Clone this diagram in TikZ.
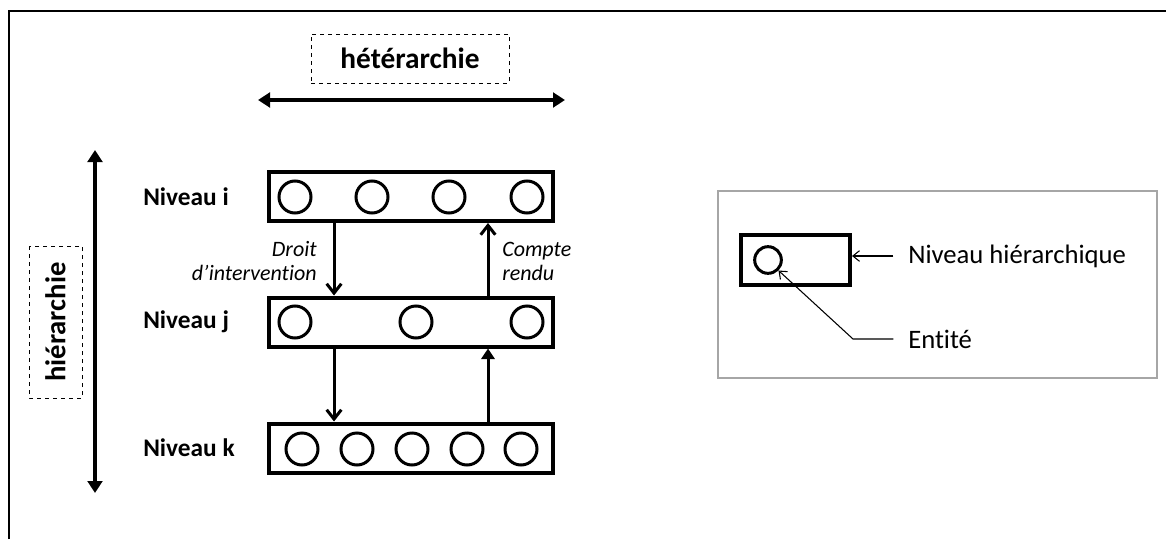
\documentclass[tikz,border=0pt]{standalone}
\usepackage{fontspec}
\setmainfont{Carlito}[Ligatures=CommonOff]
\usetikzlibrary{arrows.meta}
\tikzset{
  level/.style={draw, line width=3pt, minimum width=213pt, minimum height=36.75pt, inner sep=0pt},
  entity/.style={draw, circle, line width=2.25pt, minimum size=24pt, inner sep=0pt},
  axisarrow/.style={line width=3pt, {Triangle[length=9pt,width=11pt]}-{Triangle[length=9pt,width=11pt]}},
  flow/.style={line width=2.25pt, -{Straight Barb[length=7pt,width=11pt]}},
  flowfill/.style={line width=2.25pt, -{Triangle[length=8pt,width=10pt]}},
  axislabel/.style={draw, dashed, line width=0.75pt, font=\fontsize{22}{26}\selectfont\bfseries, inner sep=0pt},
  levellabel/.style={font=\fontsize{19}{22}\selectfont\bfseries, anchor=west, inner sep=0pt},
  flowlabel/.style={font=\fontsize{16.5}{18}\selectfont\itshape, inner sep=0pt},
  legendtext/.style={font=\fontsize{20}{24}\selectfont, anchor=west, inner sep=0pt},
  legendarrow/.style={line width=0.8pt, -{Straight Barb[length=5pt,width=8pt]}, shorten <=11pt}
}
\begin{document}
\begin{tikzpicture}[x=0.75pt, y=-0.75pt]
    \useasboundingbox (0,0) rectangle (1166,539);
    % cadre
    \draw[line width=1.5pt] (9,539) -- (9,11) -- (1166,11);
    % axes
    \node[axislabel, minimum width=148.5pt, minimum height=36.75pt] (het) at (410,58.5) {hétérarchie};
    \coordinate (hl) at (258,100);
    \coordinate (hr) at (565,100);
    \draw[axisarrow] (hl) -- (hr);
    \node[axislabel, font=\fontsize{21.5}{26}\selectfont\bfseries, rotate=90, minimum width=114pt, minimum height=39.75pt] (hier) at (55.5,322) {hiérarchie};
    \coordinate (vt) at (95,150);
    \coordinate (vb) at (95,493);
    \draw[axisarrow] (vt) -- (vb);
    % niveaux
    \node[level] (bi) at (411,196.5) {};
    \node[level] (bj) at (411,322) {};
    \node[level] (bk) at (411,448) {};
    \node[levellabel] (li) at (143,196.5) {Niveau i};
    \node[levellabel] (lj) at (143,322) {Niveau j};
    \node[levellabel] (lk) at (143,448) {Niveau k};
    \foreach \x [count=\n] in {295,372,449,527}
        \node[entity] (ei\n) at (\x,197) {};
    \foreach \x [count=\n] in {295,416,527}
        \node[entity] (ej\n) at (\x,322) {};
    \foreach \x [count=\n] in {302,357,412,467,521}
        \node[entity] (ek\n) at (\x,449) {};
    % liens
    \draw[flow] (334,0 |- bi.south) -- (334,0 |- bj.north);
    \draw[flow] (488,0 |- bj.north) -- (488,0 |- bi.south);
    \draw[flow] (334,0 |- bj.south) -- (334,0 |- bk.north);
    \draw[flowfill] (488,0 |- bk.north) -- (488,0 |- bj.south);
    \node[flowlabel, anchor=east, align=right] (droit) at (317,261) {Droit\\d’intervention};
    \node[flowlabel, anchor=west, align=left] (cr) at (502,261) {Compte\\rendu};
    % legende
    \draw[line width=1pt, gray!70] (718,191) rectangle (1157,378);
    \node[draw, line width=3pt, minimum width=81.75pt, minimum height=37.5pt, inner sep=0pt] (lr) at (795.5,260) {};
    \node[entity, minimum size=20pt] (le) at (768,260) {};
    \node[legendtext] (nh) at (908,256) {Niveau hiérarchique};
    \node[legendtext] (en) at (908,339) {Entité};
    \draw[legendarrow] (nh.west) -- (nh.west -| lr.east);
    \draw[legendarrow] (en.west) -- ++(-55,0) -- (le.-45);
\end{tikzpicture}
\end{document}
